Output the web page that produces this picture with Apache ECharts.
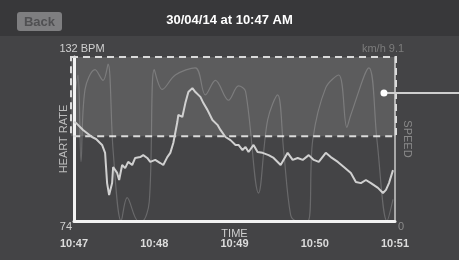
<!DOCTYPE html>
<html>
<head>
<meta charset="utf-8">
<script src="https://cdn.jsdelivr.net/npm/echarts@6/dist/echarts.min.js"></script>
<style>
  html, body { margin: 0; padding: 0; background: #444446; }
  #main { width: 459px; height: 260px; }
</style>
</head>
<body>
<div id="main"></div>
<script>
// 心率采样：时间(秒, 从 10:47 起) / bpm
var hrTime = [0, 1.5, 6.75, 13.5, 16.5, 21, 23.25, 24.75, 26.25, 28.5,
  29.25, 32.25, 33.75, 36, 38.25, 40.5, 43.5, 45.75, 49.5, 51.75,
  54.75, 57, 60.75, 64.5, 66.75, 69.75, 72, 74.25, 77.25, 78,
  81, 83.25, 85.5, 88.5, 90.75, 94.5, 96.75, 99.75, 103.5, 107.25,
  109.5, 113.25, 117, 120.75, 123, 126, 128.25, 130.5, 134.25, 137.25,
  141, 145.5, 149.25, 154.5, 159.75, 163.5, 167.25, 171, 175.5, 179.25,
  183, 188.25, 192, 197.25, 201.75, 207, 210.75, 214.5, 218.25, 222,
  227.25, 231, 233.25, 235.5, 238.5]
var hrValues = [109, 108.7, 106.2, 103.7, 103.0, 100.9, 98.1, 87.4, 83.2, 87.4,
  93.1, 91.0, 88.5, 93.8, 92.7, 94.9, 93.8, 96.3, 96.6, 97.3,
  96.3, 94.9, 95.6, 94.5, 93.8, 96.6, 98.1, 101.6, 109.0, 111.5,
  110.8, 115.7, 119.6, 121.0, 119.6, 117.9, 115.7, 113.3, 109.7, 108.0,
  106.2, 103.7, 102.6, 100.9, 100.9, 99.1, 100.2, 98.4, 100.9, 98.4,
  98.1, 97.3, 96.3, 93.8, 98.1, 95.6, 96.3, 95.6, 97.3, 95.6,
  94.9, 98.1, 96.6, 94.9, 93.1, 91.0, 87.8, 87.4, 88.5, 87.4,
  85.7, 83.9, 85.0, 87.4, 92.0]

// 速度采样：时间(秒) / km/h
var speedTime = [0, 3, 5.25, 8.25, 15.75, 21.75, 25.5, 29.25, 35.25, 39.75,
  48, 51, 56.25, 60, 66, 75.75, 90.75, 98.25, 105.75, 115.5,
  123, 128.25, 138, 144.75, 152.25, 156.75, 162, 166.5, 174.75, 178.5,
  188.25, 198, 204, 207, 220.5, 226.5, 234, 238.5]
var speedValues = [6.7, 8.1, 3.3, 7.3, 8.4, 7.8, 8.7, 3.9, 0, 1.3,
  0, 0, 1.05, 8.4, 7.3, 8.1, 8.5, 7.0, 7.8, 6.7,
  7.5, 7.2, 1.55, 5.6, 7.0, 3.9, 0.33, 0, 0, 4.5,
  7.4, 8.1, 5.2, 5.9, 8.5, 4.5, 0, 1.2]

var timeLabels = ['10:47', '10:48', '10:49', '10:50', '10:51']
var hrMin = 74
var hrMax = 132
var speedMin = 0
var speedMax = 9.1
var selectLow = 104      // 选择框下沿 (bpm)
var cursorPoint = [231.75, 119.3]   // 游标 (秒, bpm)

var FONT = 'Liberation Sans, Arial, sans-serif'
var chart = echarts.init(document.getElementById('main'))

function pairs(xs, ys) {
  return xs.map(function (x, i) { return [x, ys[i]] })
}

var option = {
  backgroundColor: '#444446',
  animation: false,
  textStyle: { fontFamily: FONT },
  title: {
    text: '30/04/14 at 10:47 AM',
    left: 'center',
    top: 14,
    padding: 0,
    textStyle: { color: '#ffffff', fontSize: 13, fontWeight: 'bold', fontFamily: FONT }
  },
  grid: { left: 74, right: 64, top: 57, bottom: 39, containLabel: false, outerBoundsMode: 'none' },
  xAxis: {
    type: 'value',
    min: 0,
    max: 240,
    interval: 60,
    name: 'TIME',
    nameLocation: 'middle',
    nameGap: 7,
    nameMoveOverlap: false,
    nameTextStyle: { color: '#cfcfcf', fontSize: 11, fontFamily: FONT, verticalAlign: 'top' },
    axisLine: { lineStyle: { color: '#f2f2f2', width: 3 } },
    axisTick: { show: false },
    splitLine: { show: false },
    axisLabel: {
      margin: 17,
      color: '#dcdcdc',
      fontSize: 11,
      fontWeight: 'bold',
      formatter: function (v) { return timeLabels[Math.round(v / 60)] }
    }
  },
  yAxis: [
    {
      // 心率轴
      type: 'value',
      position: 'left',
      min: hrMin,
      max: hrMax,
      interval: hrMax - hrMin,
      name: 'HEART RATE',
      nameLocation: 'middle',
      nameRotate: 90,
      nameGap: 5,
      nameMoveOverlap: false,
      nameTextStyle: { color: '#bdbdbd', fontSize: 11, fontFamily: FONT },
      axisLine: { show: true, lineStyle: { color: '#f2f2f2', width: 3 } },
      axisTick: { show: false },
      splitLine: { show: false },
      axisLabel: {
        margin: 2,
        verticalAlign: 'top',
        color: '#d0d0d0',
        fontSize: 11,
        formatter: function (v) { return v === hrMin ? String(v) : '' }
      }
    },
    {
      // 心率上限文字
      type: 'value',
      position: 'left',
      offset: -8,
      min: hrMin,
      max: hrMax,
      interval: hrMax - hrMin,
      name: hrMax + ' BPM',
      nameLocation: 'end',
      nameGap: 3,
      nameTextStyle: { color: '#d0d0d0', fontSize: 11, fontFamily: FONT },
      axisLine: { show: false },
      axisTick: { show: false },
      axisLabel: { show: false },
      splitLine: { show: false }
    },
    {
      // 速度轴
      type: 'value',
      position: 'right',
      min: speedMin,
      max: speedMax,
      interval: speedMax - speedMin,
      name: 'SPEED',
      nameLocation: 'middle',
      nameRotate: -90,
      nameGap: 7,
      nameMoveOverlap: false,
      nameTextStyle: { color: '#8a8a8a', fontSize: 11, fontFamily: FONT },
      axisLine: { show: true, lineStyle: { color: '#a8a8a8', width: 2 } },
      axisTick: { show: false },
      splitLine: { show: false },
      axisLabel: {
        margin: 3,
        verticalAlign: 'top',
        color: '#8a8a8a',
        fontSize: 11,
        formatter: function (v) { return v === speedMin ? String(v) : '' }
      }
    },
    {
      // 速度上限文字
      type: 'value',
      position: 'right',
      offset: -12,
      min: speedMin,
      max: speedMax,
      interval: speedMax - speedMin,
      name: 'km/h ' + speedMax,
      nameLocation: 'end',
      nameGap: 3,
      nameTextStyle: { color: '#7c7c7c', fontSize: 11, fontFamily: FONT },
      axisLine: { show: false },
      axisTick: { show: false },
      axisLabel: { show: false },
      splitLine: { show: false }
    }
  ],
  series: [
    {
      name: 'speed',
      type: 'line',
      yAxisIndex: 2,
      smooth: 0.35,
      symbol: 'none',
      z: 2,
      lineStyle: { color: 'rgba(255,255,255,0.2)', width: 1.2 },
      data: pairs(speedTime, speedValues)
    },
    {
      name: 'heart rate',
      type: 'line',
      yAxisIndex: 0,
      symbol: 'none',
      z: 3,
      lineStyle: { color: '#d0d0d0', width: 2 },
      data: pairs(hrTime, hrValues)
    }
  ]
}

chart.setOption(option, true)

// 选择框和游标，位置由坐标轴换算
var tl = chart.convertToPixel({ xAxisIndex: 0, yAxisIndex: 0 }, [0, hrMax])
var br = chart.convertToPixel({ xAxisIndex: 0, yAxisIndex: 0 }, [240, selectLow])
var cp = chart.convertToPixel({ xAxisIndex: 0, yAxisIndex: 0 }, cursorPoint)

chart.setOption({
  graphic: [
    // 顶部栏
    { type: 'rect', z: -10, shape: { x: 0, y: 0, width: 459, height: 36 }, style: { fill: '#38383a' } },
    {
      type: 'rect', z: 10,
      shape: { x: 17, y: 12, width: 45, height: 19, r: 3 },
      style: { fill: '#7e7e80' }
    },
    {
      type: 'text', z: 11, x: 39.5, y: 22,
      style: { text: 'Back', fill: '#505052', font: 'bold 13px ' + FONT, textAlign: 'center', textVerticalAlign: 'middle' }
    },
    // 选择框
    {
      type: 'rect', z: 1,
      shape: { x: tl[0] - 3, y: tl[1], width: br[0] - tl[0] + 4, height: br[1] - tl[1] },
      style: { fill: 'rgba(255,255,255,0.13)', stroke: '#dadada', lineWidth: 2, lineDash: [7, 5] }
    },
    // 游标
    {
      type: 'line', z: 20,
      shape: { x1: cp[0], y1: cp[1], x2: 459, y2: cp[1] },
      style: { stroke: '#cfcfcf', lineWidth: 2 }
    },
    {
      type: 'circle', z: 21,
      shape: { cx: cp[0], cy: cp[1], r: 3.5 },
      style: { fill: '#ffffff' }
    }
  ]
})
</script>
</body>
</html>
